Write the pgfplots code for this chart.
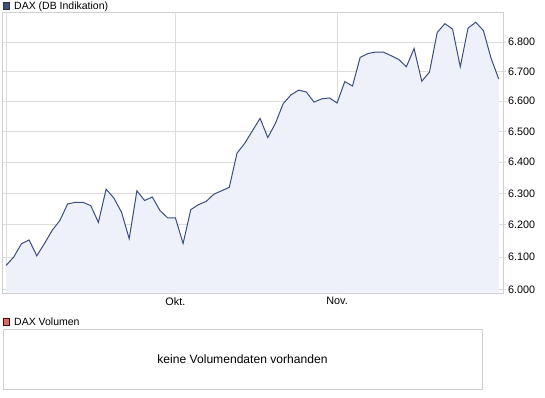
\documentclass[border=0pt]{standalone}
\usepackage{fontspec}
\setmainfont{Liberation Sans}
\usepackage{pgfplots}
\pgfplotsset{compat=1.18}
\definecolor{linecol}{HTML}{3B4E7E}
\definecolor{fillcol}{HTML}{EEF1FA}
\definecolor{gridcol}{HTML}{DCDCDC}
\definecolor{framecol}{HTML}{D0D0D0}
\definecolor{legblue}{HTML}{3C4F80}
\definecolor{legred}{HTML}{D96A6A}
\begin{document}
\begin{tikzpicture}[x=1pt,y=1pt]
\path[use as bounding box] (0,0) rectangle (545,-398);
\begin{axis}[
  at={(2.7pt,-293pt)}, anchor=south west,
  width=500.3pt, height=280pt, scale only axis,
  y coord trafo/.code={\pgfmathparse{100*ln(#1/6000)}},
  y coord inv trafo/.code={\pgfmathparse{6000*exp(#1/100)}},
  xmin=-0.43, xmax=64.55,
  ymin=5991, ymax=6901,
  xtick={0,22,43}, xticklabels={,Okt.,Nov.},
  ytick={6000,6100,6200,6300,6400,6500,6600,6700,6800},
  yticklabels={6.000,6.100,6.200,6.300,6.400,6.500,6.600,6.700,6.800},
  yminorticks=false, xminorticks=false,
  ytick pos=right, yticklabel pos=right,
  xtick pos=bottom,
  tick align=outside,
  major tick length=3pt,
  x tick style={draw=none},
  y tick style={draw=gridcol, line width=1pt},
  grid=major,
  major grid style={draw=gridcol, line width=1pt},
  axis line style={draw=framecol, line width=1pt},
  tick label style={font=\fontsize{10.8}{12}\selectfont, text=black},
  yticklabel style={xshift=-1.5pt},
  xticklabel style={yshift=2pt},
]
\addplot[fill=fillcol, draw=none] coordinates {
(0,5991)
(0,6074)(1,6100)(2,6141)(3,6153)(4,6104)(5,6142)(6,6183)(7,6214)(8,6266)(9,6271)
(10,6271)(11,6261)(12,6208)(13,6313)(14,6285)(15,6240)(16,6157)(17,6308)(18,6277)(19,6288)
(20,6245)(21,6222)(22,6222)(23,6142)(24,6248)(25,6264)(26,6274)(27,6297)(28,6308)(29,6319)
(30,6429)(31,6461)(32,6502)(33,6543)(34,6480)(35,6527)(36,6592)(37,6621)(38,6637)(39,6631)
(40,6597)(41,6608)(42,6611)(43,6594)(44,6666)(45,6651)(46,6748)(47,6761)(48,6766)(49,6766)
(50,6754)(51,6741)(52,6716)(53,6778)(54,6667)(55,6698)(56,6833)(57,6864)(58,6845)(59,6716)
(60,6848)(61,6869)(62,6840)(63,6745)(64,6674)
(64,5991)
};
\addplot[draw=linecol, line width=1pt, mark=none] coordinates {
(0,6074)(1,6100)(2,6141)(3,6153)(4,6104)(5,6142)(6,6183)(7,6214)(8,6266)(9,6271)
(10,6271)(11,6261)(12,6208)(13,6313)(14,6285)(15,6240)(16,6157)(17,6308)(18,6277)(19,6288)
(20,6245)(21,6222)(22,6222)(23,6142)(24,6248)(25,6264)(26,6274)(27,6297)(28,6308)(29,6319)
(30,6429)(31,6461)(32,6502)(33,6543)(34,6480)(35,6527)(36,6592)(37,6621)(38,6637)(39,6631)
(40,6597)(41,6608)(42,6611)(43,6594)(44,6666)(45,6651)(46,6748)(47,6761)(48,6766)(49,6766)
(50,6754)(51,6741)(52,6716)(53,6778)(54,6667)(55,6698)(56,6833)(57,6864)(58,6845)(59,6716)
(60,6848)(61,6869)(62,6840)(63,6745)(64,6674)
};
\end{axis}
% top legend
\filldraw[fill=legblue, draw=black!80, line width=0.8pt] (3.3,-2.8) rectangle (9.8,-9.3);
\node[anchor=west, inner sep=0pt, font=\fontsize{10.5}{12}\selectfont] at (14,-6.3) {DAX (DB Indikation)};
% lower panel
\filldraw[fill=legred, draw=black!70!red, line width=0.8pt] (3.3,-318.5) rectangle (9.8,-325);
\node[anchor=west, inner sep=0pt, font=\fontsize{10.5}{12}\selectfont] at (14,-321.8) {DAX Volumen};
\draw[framecol, line width=1pt] (3,-329.5) rectangle (482.7,-389.3);
\node[font=\fontsize{12.1}{14}\selectfont] at (242.5,-359) {keine Volumendaten vorhanden};
\end{tikzpicture}
\end{document}
